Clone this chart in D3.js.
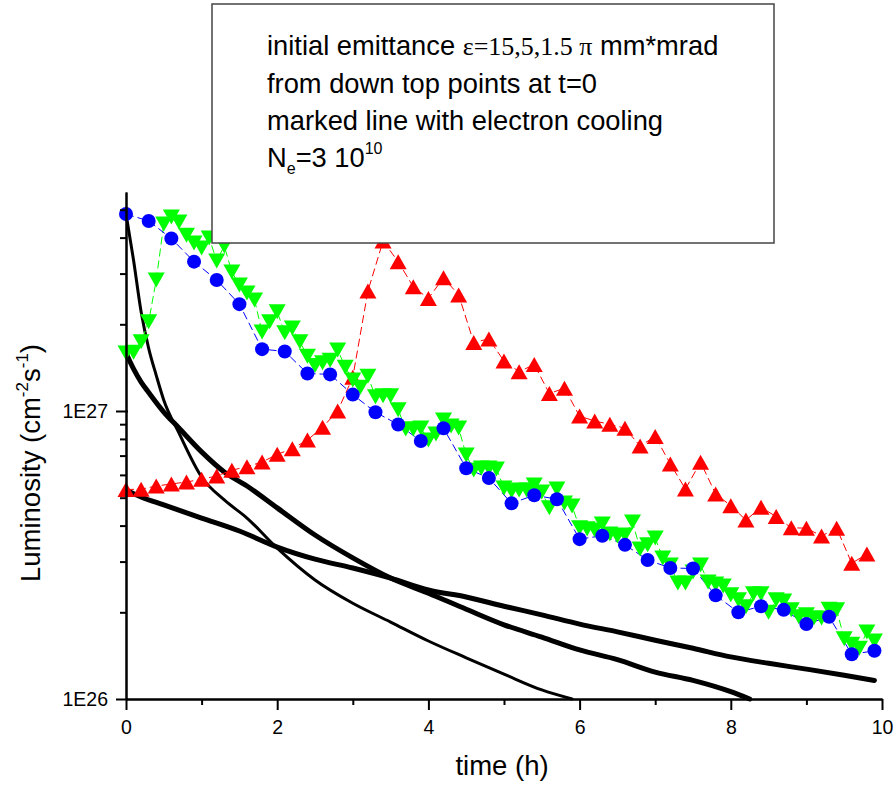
<!DOCTYPE html>
<html><head><meta charset="utf-8">
<script src="https://cdn.jsdelivr.net/npm/d3@7"></script>
<style>
html,body{margin:0;padding:0;background:#fff;}
svg{display:block;}
text{font-family:Arial,"Liberation Sans",sans-serif;fill:#000;}
</style></head><body>
<svg id="chart" width="896" height="786"></svg>
<script>
// ---------- DATA (luminosity in units of 1E26 cm^-2 s^-1) ----------
const UNIT = 1e26;

// red up-triangles (with cooling, eps = 15)
const redTime = [0,0.2,0.4,0.6,0.8,1.0,1.2,1.4,1.6,1.8,2.0,2.2,2.4,2.6,2.8,3.0,3.2,3.4,3.6,3.8,
  4.0,4.2,4.4,4.6,4.8,5.0,5.2,5.4,5.6,5.8,6.0,6.2,6.4,6.6,6.8,7.0,7.2,7.4,7.6,7.8,
  8.0,8.2,8.4,8.6,8.8,9.0,9.2,9.4,9.6,9.8];
const redLum = [5.34,5.35,5.49,5.58,5.67,5.79,5.95,6.23,6.41,6.65,
  7.07,7.40,7.93,8.78,10.0,13.1,26.1,38.9,33.0,27.0,
  24.6,29.0,25.3,17.3,17.8,14.9,13.7,14.5,11.5,12.0,
  9.60,9.23,8.99,8.71,7.56,8.16,6.55,5.36,6.64,5.15,
  4.69,4.18,4.63,4.30,3.93,3.92,3.68,3.92,2.96,3.19];

// blue circles (with cooling, eps = 1.5)
const blueTime = [0,0.3,0.6,0.9,1.2,1.5,1.8,2.1,2.4,2.7,3.0,3.3,3.6,3.9,4.2,4.5,4.8,5.1,5.4,5.7,
  6.0,6.3,6.6,6.9,7.2,7.5,7.8,8.1,8.4,8.7,9.0,9.3,9.6,9.9];
const blueLum = [48.3,45.7,39.7,33.0,28.5,23.5,16.4,16.1,13.5,13.4,
  11.4,9.90,8.98,7.87,8.71,6.33,5.85,4.78,5.10,4.94,
  3.59,3.69,3.43,3.04,2.85,2.84,2.29,2.00,2.10,2.04,
  1.82,1.93,1.43,1.47];

// green down-triangles (with cooling, eps = 5)
const greenTime = [0,0.1,0.2,0.3,0.4,0.5,0.6,0.7,0.8,0.9,1.0,1.1,1.2,1.3,1.4,1.5,1.6,1.7,1.8,1.9,
  2.0,2.1,2.2,2.3,2.4,2.5,2.6,2.7,2.8,2.9,3.0,3.1,3.2,3.3,3.4,3.5,3.6,3.7,3.8,3.9,
  4.0,4.1,4.2,4.3,4.4,4.5,4.6,4.7,4.8,4.9,5.0,5.1,5.2,5.3,5.4,5.5,5.6,5.7,5.8,5.9,
  6.0,6.1,6.2,6.3,6.4,6.5,6.6,6.7,6.8,6.9,7.0,7.1,7.2,7.3,7.4,7.5,7.6,7.7,7.8,7.9,
  8.0,8.1,8.2,8.3,8.4,8.5,8.6,8.7,8.8,8.9,9.0,9.1,9.2,9.3,9.4,9.5,9.6,9.7,9.8,9.9];
const greenLum = [15.9,16.0,17.4,20.4,28.5,44.6,47.2,45.3,40.8,38.3,
  36.8,39.9,33.2,37.4,30.4,27.4,25.7,24.3,18.8,20.4,
  22.1,18.7,19.4,17.4,15.5,14.4,14.7,15.0,16.3,14.2,
  12.8,12.1,13.2,11.2,11.3,11.3,10.1,8.66,8.66,8.73,
  7.93,8.32,9.31,8.87,8.73,7.03,6.24,6.34,6.34,6.29,
  5.40,5.28,5.32,5.32,5.53,5.23,4.61,5.36,4.79,4.68,
  3.93,3.90,3.86,4.05,3.74,3.68,3.71,4.12,3.32,3.43,
  3.62,3.09,2.92,2.53,2.53,2.76,2.92,2.55,2.51,2.47,
  2.30,2.21,2.09,2.32,2.32,2.00,2.21,2.19,2.04,1.93,
  1.96,1.91,1.91,2.05,2.04,1.62,1.55,1.50,1.71,1.59];

// black curves without cooling
const noCoolA_Time = [0,0.1,0.2,0.3,0.4,0.5,0.7,1.0,1.3,1.6,2.0,2.5,3.0,3.5,4.0,4.5,5.0,5.5,5.9];
const noCoolA_Lum  = [48.4,33.4,22.1,16.5,13.3,10.9,8.39,5.90,4.91,4.25,3.34,2.59,2.15,1.85,1.59,1.39,1.22,1.075,1.00];
const noCoolB_Time = [0,0.1,0.2,0.3,0.5,0.7,1.0,1.3,1.6,2.0,2.5,3.0,3.5,4.0,4.5,5.0,5.5,6.0,6.5,7.0,7.5,8.0,8.25];
const noCoolB_Lum  = [15.9,14.0,12.6,11.6,9.92,8.73,7.21,6.14,5.49,4.61,3.71,3.09,2.63,2.33,2.05,1.81,1.64,1.48,1.37,1.24,1.16,1.06,1.00];
const noCoolC_Time = [0,0.2,0.5,1.0,1.5,2.0,2.5,3.0,3.5,4.0,4.5,5.0,5.5,6.0,6.5,7.0,7.5,8.0,8.5,9.0,9.5,9.9];
const noCoolC_Lum  = [5.32,5.03,4.72,4.25,3.83,3.37,3.06,2.85,2.63,2.39,2.26,2.10,1.96,1.82,1.71,1.60,1.50,1.40,1.33,1.27,1.21,1.16];

// ticks
const xMajorTicks = [0,2,4,6,8,10];
const xMinorTicks = [1,3,5,7,9];
const yMajorTicks = [1e26,1e27];
const yMajorLabels = ["1E26","1E27"];
const yMinorTicks = [2e26,3e26,4e26,5e26,6e26,7e26,8e26,9e26,2e27,3e27,4e27,5e27];

const legendLines = ["initial emittance", "from down top points at t=0", "marked line with electron cooling"];

// ---------- CHART ----------
const svg = d3.select("#chart");
const x = d3.scaleLinear().domain([0,10]).range([126,882]);
const y = d3.scaleLog().domain([1e26,5.76e27]).range([699,192]);

const zip = (t,v) => t.map((d,i)=>({t:d, v:v[i]*UNIT}));
const line = d3.line().x(d=>x(d.t)).y(d=>y(d.v));
const smooth = d3.line().x(d=>x(d.t)).y(d=>y(d.v)).curve(d3.curveMonotoneX);

// black curves
[[noCoolA_Time,noCoolA_Lum,3],[noCoolB_Time,noCoolB_Lum,5],[noCoolC_Time,noCoolC_Lum,5]].forEach(([t,v,w])=>{
  svg.append("path").attr("d", smooth(zip(t,v)))
    .attr("fill","none").attr("stroke","#000").attr("stroke-width",w)
    .attr("stroke-linecap","round").attr("stroke-linejoin","round");
});

function triPath(w,h,up){
  return up ? `M0,${-h/2}L${w/2},${h/2}L${-w/2},${h/2}Z`
            : `M0,${h/2}L${w/2},${-h/2}L${-w/2},${-h/2}Z`;
}

// red
const red = zip(redTime, redLum);
svg.append("path").attr("d", line(red)).attr("fill","none").attr("stroke","#ff0000")
  .attr("stroke-width",1).attr("stroke-dasharray","8,4");
svg.append("g").selectAll("path").data(red).join("path")
  .attr("d", triPath(17,15,true)).attr("transform", d=>`translate(${x(d.t)},${y(d.v)})`)
  .attr("fill","#ff0000");

// green
const green = zip(greenTime, greenLum);
svg.append("path").attr("d", line(green)).attr("fill","none").attr("stroke","#00ff00")
  .attr("stroke-width",1).attr("stroke-dasharray","8,4");
// blue line
const blue = zip(blueTime, blueLum);
svg.append("path").attr("d", line(blue)).attr("fill","none").attr("stroke","#0000ff")
  .attr("stroke-width",1).attr("stroke-dasharray","8,4");
svg.append("g").selectAll("path").data(green).join("path")
  .attr("d", triPath(17,15,false)).attr("transform", d=>`translate(${x(d.t)},${y(d.v)})`)
  .attr("fill","#00ff00");
svg.append("g").selectAll("circle").data(blue).join("circle")
  .attr("cx", d=>x(d.t)).attr("cy", d=>y(d.v)).attr("r",7).attr("fill","#0000ff");

// axes
function styleAxis(g){
  g.selectAll(".domain").attr("stroke","#000").attr("stroke-width",2);
  g.selectAll(".tick line").attr("stroke","#000").attr("stroke-width",2);
  g.selectAll("text").attr("font-family","Arial, 'Liberation Sans', sans-serif").attr("font-size",19.5).attr("fill","#000");
}
const yMajor = svg.append("g").attr("transform","translate(126,0)")
  .call(d3.axisLeft(y).tickValues(yMajorTicks).tickSize(10).tickSizeOuter(0).tickPadding(8)
    .tickFormat((d,i)=>yMajorLabels[i]));
styleAxis(yMajor);
yMajor.selectAll(".tick line").attr("x2",-10).attr("x1",2);
const yMinor = svg.append("g").attr("transform","translate(126,0)")
  .call(d3.axisLeft(y).tickValues(yMinorTicks).tickSize(6).tickSizeOuter(0).tickFormat(""));
styleAxis(yMinor);

const xMajor = svg.append("g").attr("transform","translate(0,699)")
  .call(d3.axisBottom(x).tickValues(xMajorTicks).tickSize(11).tickSizeOuter(0).tickPadding(10));
styleAxis(xMajor);
const xMinor = svg.append("g").attr("transform","translate(0,699)")
  .call(d3.axisBottom(x).tickValues(xMinorTicks).tickSize(6).tickSizeOuter(0).tickFormat(""));
styleAxis(xMinor);

// axis titles
svg.append("text").attr("x",502).attr("y",775).attr("text-anchor","middle")
  .attr("font-size",27.5).text("time (h)");
const yt = svg.append("text").attr("transform","translate(40,463) rotate(-90)")
  .attr("text-anchor","middle").attr("font-size",27.5);
yt.append("tspan").text("Luminosity (cm");
yt.append("tspan").attr("font-size",17).attr("dy",-12).text("-2");
yt.append("tspan").attr("dy",12).text("s");
yt.append("tspan").attr("font-size",17).attr("dy",-12).text("-1");
yt.append("tspan").attr("dy",12).text(")");

// legend box (drawn on top)
svg.append("rect").attr("x",212).attr("y",4).attr("width",562).attr("height",239)
  .attr("fill","#fff").attr("stroke","#444").attr("stroke-width",1.5);
const l1 = svg.append("text").attr("x",267).attr("y",55).attr("font-size",27.3);
l1.append("tspan").text(legendLines[0] + " ");
l1.append("tspan").attr("font-family","'Liberation Serif','Times New Roman',serif").attr("font-size",26).text("\u03b5=15,5,1.5 \u03c0");
l1.append("tspan").text(" mm*mrad");
svg.append("text").attr("x",267).attr("y",93).attr("font-size",27.3).text(legendLines[1]);
svg.append("text").attr("x",267).attr("y",130).attr("font-size",27.3).text(legendLines[2]);
const l4 = svg.append("text").attr("x",267).attr("y",167).attr("font-size",27.3);
l4.append("tspan").text("N");
l4.append("tspan").attr("font-size",16).attr("dy",7).text("e");
l4.append("tspan").attr("dy",-7).text("=3 10");
l4.append("tspan").attr("font-size",16).attr("dy",-13).text("10");
</script>
</body></html>
